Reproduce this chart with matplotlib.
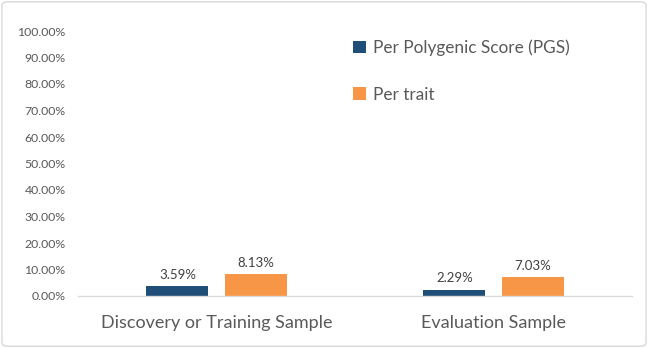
import matplotlib
matplotlib.use("Agg")
import matplotlib.pyplot as plt
from matplotlib.patches import FancyBboxPatch
from matplotlib.ticker import FuncFormatter
import numpy as np

categories = ["Discovery or Training Sample", "Evaluation Sample"]
series_names = ["Per Polygenic Score (PGS)", "Per trait"]
pgs_values = [3.59, 2.29]
trait_values = [8.13, 7.03]
colors = ["#1F4E79", "#F79646"]

plt.rcParams['font.family'] = ['Lato', 'DejaVu Sans']

fig = plt.figure(figsize=(6.48, 3.48), dpi=100)
ax = fig.add_axes([78/648, 1 - 296/348, (632-78)/648, (296-31)/348])

x = np.arange(len(categories))
w = 0.224
off = 0.141
b1 = ax.bar(x - off, pgs_values, w, color=colors[0], label=series_names[0])
b2 = ax.bar(x + off, trait_values, w, color=colors[1], label=series_names[1])

for bars, vals in ((b1, pgs_values), (b2, trait_values)):
    for r, v in zip(bars, vals):
        ax.annotate(f"{v:.2f}%", (r.get_x() + r.get_width()/2, v),
                    xytext=(0, 4), textcoords="offset points",
                    ha="center", va="bottom", fontsize=9.5, color="#404040")

ax.set_xlim(-0.5, 1.5)
ax.set_ylim(0, 100)
ax.set_yticks(np.arange(0, 101, 10))
ax.yaxis.set_major_formatter(FuncFormatter(lambda v, p: f"{v:.2f}%"))
ax.set_xticks(x)
ax.set_xticklabels(categories, fontsize=13, color="#595959")
ax.tick_params(axis='y', length=0, labelsize=8.8, labelcolor="#595959", pad=9)
ax.tick_params(axis='x', length=0, pad=14)
for s in ["top", "right", "left"]:
    ax.spines[s].set_visible(False)
ax.spines["bottom"].set_color("#D9D9D9")
ax.spines["bottom"].set_linewidth(1)

leg = ax.legend(loc="upper left", bbox_to_anchor=(0.469, 1.027), frameon=False,
                fontsize=12.4, labelcolor="#595959", handlelength=0.72,
                handleheight=0.72, handletextpad=0.4, labelspacing=1.78)

border = FancyBboxPatch((0.003, 0.005), 0.994, 0.99, boxstyle="round,pad=0,rounding_size=0.01",
                        transform=fig.transFigure, fill=False, edgecolor="#D9D9D9", linewidth=1)
fig.patches.append(border)

fig.savefig("out.png", dpi=100)
